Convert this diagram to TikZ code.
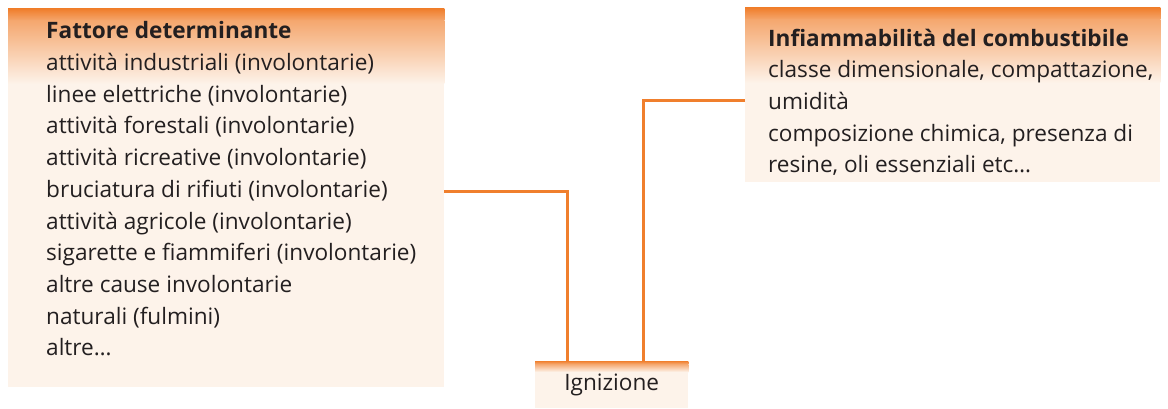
\documentclass[tikz,border=0pt]{standalone}
\usepackage{fontspec}
\setmainfont{Open Sans}
\usepackage{xcolor}
\usetikzlibrary{positioning}
\definecolor{fireorange}{HTML}{F07F2D}
\definecolor{cream}{HTML}{FDF3EA}
\definecolor{ink}{HTML}{231F20}
\begin{document}
\begin{tikzpicture}[
    x=1pt, y=1pt,
    panel/.style={rectangle, fill=cream, inner sep=0pt, anchor=north west},
    glow/.style={top color=fireorange, bottom color=fireorange!65!cream},
    fade/.style={top color=fireorange!65!cream, bottom color=cream},
    listtext/.style={anchor=north west, inner sep=0pt, align=left, text=ink,
        font=\fontsize{22.6}{31.7}\selectfont},
    link/.style={draw=fireorange, line width=2.8pt}
]
    \useasboundingbox (0,0) rectangle (1168,408);

    % Boxes
    \node[panel, minimum width=436, minimum height=378] (causebox) at (8,399) {};
    \node[panel, minimum width=415, minimum height=174] (fuelbox) at (745,400) {};
    \node[panel, minimum width=153, minimum height=47] (ignite) at (535,47) {};

    % Orange tops
    \shade[glow] (causebox.north west) rectangle ([yshift=-12]causebox.north east);
    \shade[fade] ([yshift=-12]causebox.north west) rectangle ([yshift=-75]causebox.north east);
    \shade[glow] (fuelbox.north west) rectangle ([yshift=-12]fuelbox.north east);
    \shade[fade] ([yshift=-12]fuelbox.north west) rectangle ([yshift=-75]fuelbox.north east);
    \shade[glow] (ignite.north west) rectangle ([yshift=-3]ignite.north east);
    \shade[fade] ([yshift=-3]ignite.north west) rectangle ([yshift=-11]ignite.north east);

    % Texts
    \node[listtext] (causetext) at (46,386.5) {\textbf{Fattore determinante}\\
        attività industriali (involontarie)\\
        linee elettriche (involontarie)\\
        attività forestali (involontarie)\\
        attività ricreative (involontarie)\\
        bruciatura di rifiuti (involontarie)\\
        attività agricole (involontarie)\\
        sigarette e fiammiferi (involontarie)\\
        altre cause involontarie\\
        naturali (fulmini)\\
        altre…};
    \node[listtext] (fueltext) at (768,379.5) {\textbf{Infiammabilità del combustibile}\\
        classe dimensionale, compattazione,\\
        umidità\\
        composizione chimica, presenza di\\
        resine, oli essenziali etc…};
    \node[text=ink, font=\fontsize{22.6}{24}\selectfont] (ignitetext) at (ignite) {Ignizione};

    % Links
    \draw[link] ([yshift=7]causebox.east) -| ([xshift=-44]ignite.north);
    \draw[link] ([yshift=-5]fuelbox.west) -| ([xshift=32]ignite.north);
\end{tikzpicture}
\end{document}
